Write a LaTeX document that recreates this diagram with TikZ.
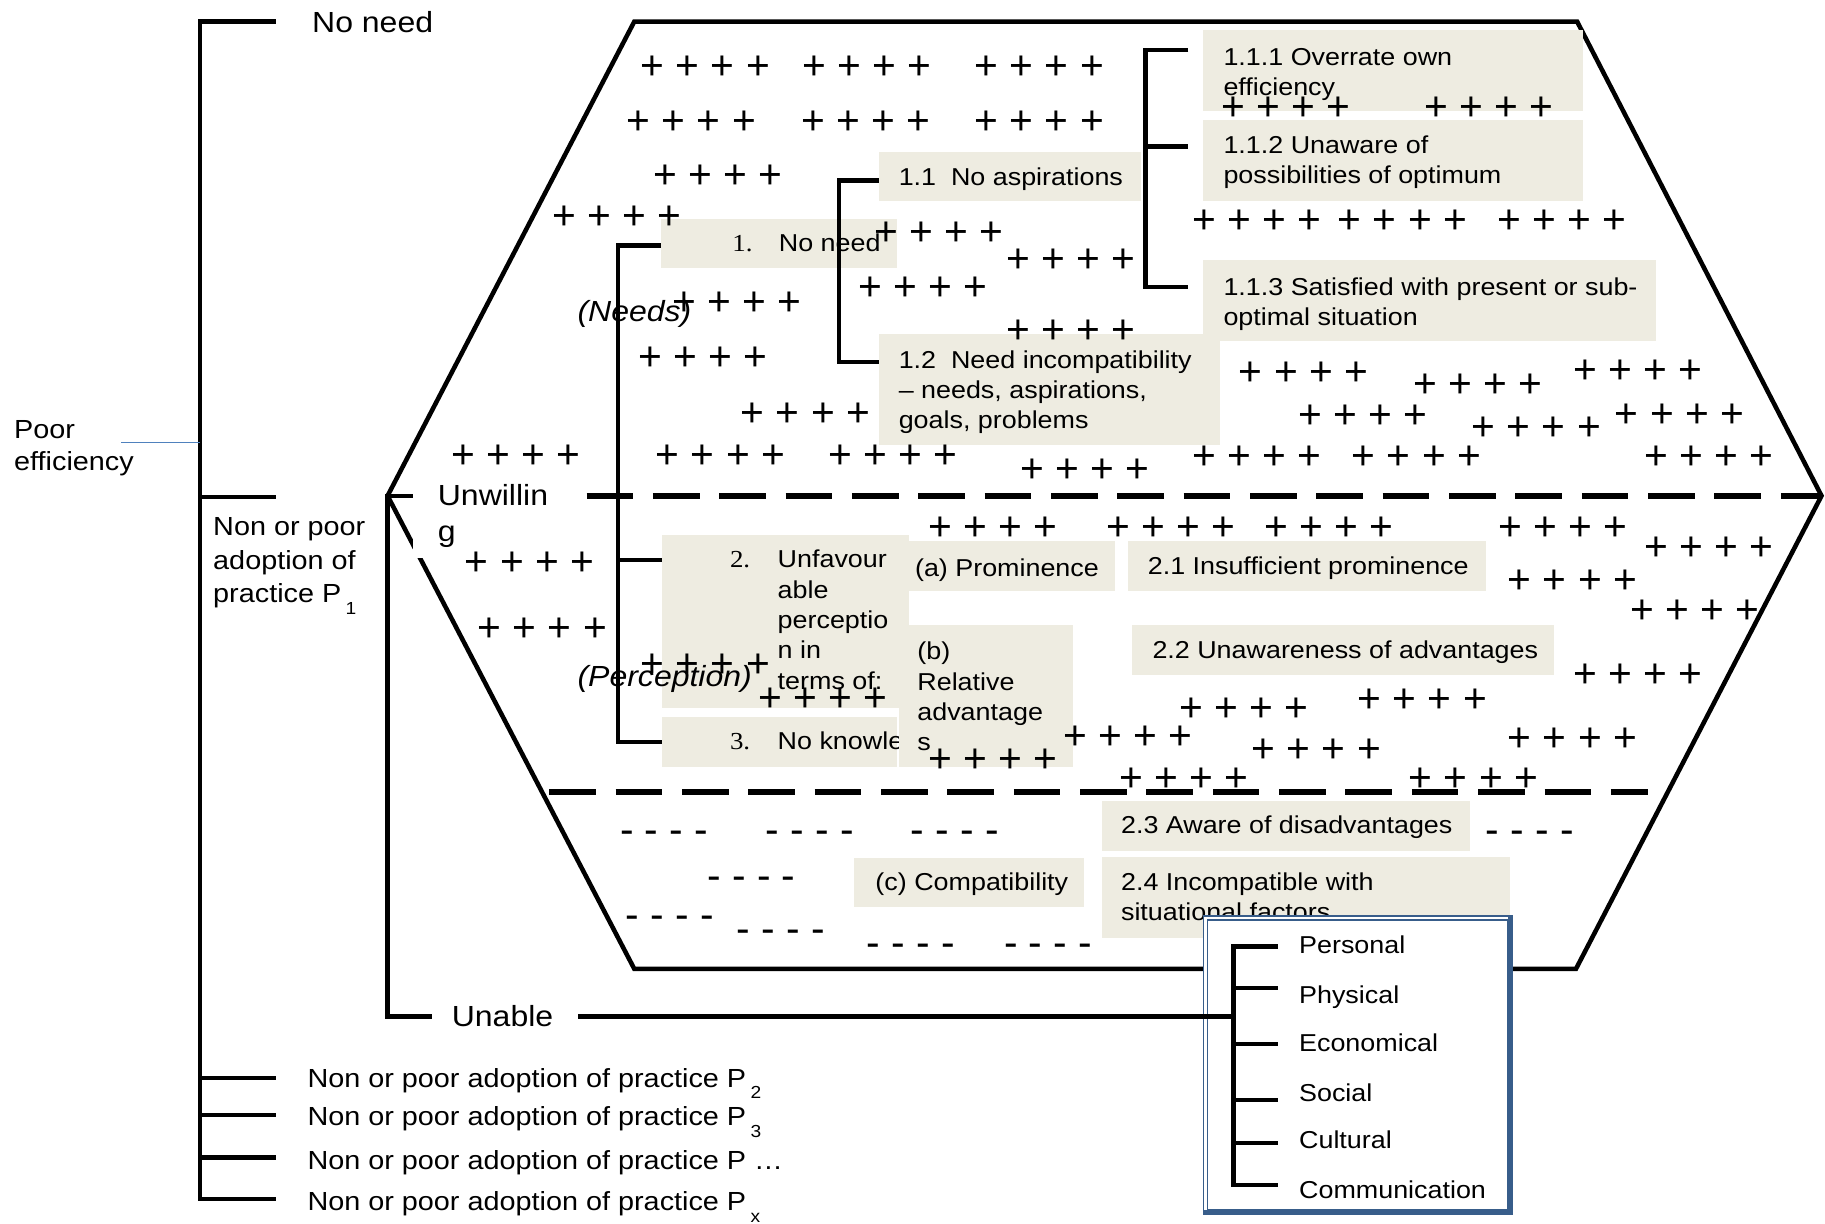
\documentclass[tikz,border=0pt]{standalone}
\usepackage{fontspec}
\setmainfont{Liberation Sans}[FakeStretch=1.1]
\newfontfamily\numfont{Liberation Serif}[FakeStretch=1.1]
\newfontfamily\plusfont{Liberation Sans}
\usetikzlibrary{fit}

\definecolor{boxbg}{HTML}{EEECE1}
\definecolor{frameblue}{HTML}{385D8A}
\definecolor{leadblue}{HTML}{4F81BD}

\newcommand\boxfont{\fontsize{21}{26}\selectfont}
\newcommand\outfont{\fontsize{22.5}{29}\selectfont}
\newcommand\bigfont{\fontsize{25}{31}\selectfont}
\newcommand\plussize{\plusfont\fontsize{35}{40}\selectfont}
\newcommand\subs[1]{\,\raisebox{-10pt}{\fontsize{15}{15}\selectfont #1}}
\newcommand\ml[1]{\begin{tabular}[t]{@{}l@{}}#1\end{tabular}}

\tikzset{
  bar/.style={line width=3.9pt},
  dashbar/.style={line width=5pt, dash pattern=on 40pt off 17pt},
  bg/.style={fill=boxbg, draw=none, inner sep=0pt},
  txt/.style={anchor=base west, inner sep=0pt, font=\boxfont},
  outer/.style={anchor=base west, inner sep=0pt, font=\outfont},
  big/.style={anchor=base west, inner sep=0pt, font=\bigfont},
  plusrow/.style={anchor=base west, inner sep=0pt, font=\plussize, xshift=-1.7pt, yshift=-12.3pt},
  dashrow/.style={anchor=base west, inner sep=0pt, font=\plussize, xshift=-1.5pt, yshift=-9pt},
}

\begin{document}
\begin{tikzpicture}[x=1pt, y=-1pt, line join=miter]
\useasboundingbox (0,0) rectangle (1568,1051);

% ---- hexagon of the adoption space ----
\draw[bar] (333,426) coordinate (hexL) -- (545,18.5) -- (1355,18.5)
  -- (1565,426) coordinate (hexR) -- (1354,832.5) -- (545,832.5) -- cycle;

% ---- outer bracket: poor efficiency ----
\draw[bar] (237,18.5) -- (172,18.5) -- (172,1030) -- (237,1030);
\foreach \yy/\nm in {427/tkP1, 926/tkP2, 958/tkP3, 994.5/tkPd}
  \draw[bar] (172,\yy) -- (237,\yy) coordinate (\nm);
\coordinate (leadL) at (104,380);
\draw[leadblue, line width=1.3pt] (leadL) -- (172,380);

% ---- unwilling / unable bracket ----
\draw[bar] (355,426) -- (hexL) -- (333,873.5) -- (371,873.5) coordinate (unableT);

% ---- dashed dividers ----
\draw[dashbar] (504,426) -- (hexR);
\draw[dashbar] (472,680.5) -- (1416,680.5);

% ---- shaded category boxes ----
\node[bg, fit={(1034,26) (1360,95)}] (b111) {};
\node[bg, fit={(1034,103) (1360,173)}] (b112) {};
\node[bg, fit={(755,287) (1048,382)}] (b12) {};
\node[bg, fit={(1034,223) (1423,293)}] (b113) {};
\node[bg, fit={(755,131) (980,173)}] (b11) {};
\node[bg, fit={(568,188) (771,230)}] (b1) {};
\node[bg, fit={(569,460) (781,608)}] (b2) {};
\node[bg, fit={(569,616) (771,659)}] (b3) {};
\node[bg, fit={(781,465) (958,508)}] (ba) {};
\node[bg, fit={(969,465) (1277,508)}] (b21) {};
\node[bg, fit={(973,537) (1335,580)}] (b22) {};
\node[bg, fit={(947,688) (1263,731)}] (b23) {};
\node[bg, fit={(947,736) (1297,806)}] (b24) {};
\node[bg, fit={(734,737) (931,779)}] (bc) {};

% ---- box texts ----
\node[txt] (t111) at (1051,56) {\ml{1.1.1 Overrate own\\efficiency}};
\node[txt] (t112) at (1051,132) {\ml{1.1.2 Unaware of\\possibilities of optimum}};
\node[txt] (t113) at (1051,253.5) {\ml{1.1.3 Satisfied with present or sub-\\optimal situation}};
\node[txt] (t11) at (772,159) {1.1\ \ No aspirations};
\node[txt] (t1n) at (629,216) {\numfont 1.};
\node[txt] (t1) at (669,216) {No need};
\node[txt] (t12) at (772,316.5) {\ml{1.2\ \ Need incompatibility\\– needs, aspirations,\\goals, problems}};
\node[txt] (t2n) at (627,488) {\numfont 2.};
\node[txt] (t2) at (668,488) {\ml{Unfavour\\able\\perceptio\\n in\\terms of:}};
\node[txt] (t3n) at (627,644) {\numfont 3.};
\node[txt] (t3) at (668,644) {No knowle};
\node[txt] (ta) at (786,495) {(a) Prominence};
\node[txt] (t21) at (986,494) {2.1 Insufficient prominence};
\node[txt] (t22) at (990,565.5) {2.2 Unawareness of advantages};
\node[txt] (t23) at (963,716) {2.3 Aware of disadvantages};
\node[txt] (t24) at (963,765) {\ml{2.4 Incompatible with\\situational factors}};
\node[txt] (tc) at (752,765) {(c) Compatibility};

\node[bg, fit={(772,537) (922,659)}] (bb) {};
\node[txt] (tb) at (788,567) {\ml{(b)\\Relative\\advantage\\s}};

% ---- inner brackets ----
\draw[bar] (b1.west |- 0,211) -- (531,211) -- (531,637.5) -- (b3.west |- 0,637.5);
\draw[bar] (531,481) -- (b2.west |- 0,481);
\draw[bar] (b11.west |- 0,155) -- (721,155) -- (721,311) -- (b12.west |- 0,311);
\draw[bar] (1021,43) -- (984,43) -- (984,246.5) -- (1021,246.5);
\draw[bar] (984,126) -- (1021,126);

% ---- outer labels ----
\node[big] (noneed) at (268,28) {No need};
\node[anchor=base west, inner sep=0pt, font=\fontsize{22.5}{27}\selectfont] (poor) at (12,377) {\ml{Poor\\efficiency}};
\node[outer] (lp1) at (183,460) {\ml{Non or poor\\adoption of\\practice P\subs{1}}};
\fill[white] (355,405) rectangle (470,479);
\node[big] (unw) at (376,434) {\ml{Unwillin\\g}};
\node[big] (unable) at (388,882) {Unable};
\node[big] (needs) at (496,276) {\itshape (Needs)};
\node[big] (perc) at (496,590) {\itshape (Perception)};
\node[outer] (lp2) at (264,934) {Non or poor adoption of practice P\subs{2}};
\node[outer] (lp3) at (264,967) {Non or poor adoption of practice P\subs{3}};
\node[outer] (lpd) at (264,1005) {Non or poor adoption of practice P …};
\node[outer] (lpx) at (264,1040) {Non or poor adoption of practice P\subs{x}};

% ---- plus rows (favourable) ----
\foreach \x/\y [count=\i] in {
  552/56, 691/56, 839/56, 540/103, 690/103, 839/103, 563/150, 476/185,
  753/199, 866/222, 739/246, 579/259, 866/283, 550/306, 638/354,
  389/390, 565/390, 713/390, 878/402, 1051/91, 1225/91,
  1026/188, 1151/188, 1288/188, 1066/319, 1216/329, 1353/317,
  1117/356, 1266/366, 1389/355, 1026/391, 1163/391, 1414/391,
  799/452, 952/452, 1088/452, 1289/452, 1414/469, 401/482, 1297/498,
  1402/523, 412/539, 552/570, 1353/578, 653/599, 1168/600, 1015/608,
  915/632, 1297/633, 1077/643, 799/651, 963/668, 1212/668}
  \node[plusrow] (pl\i) at (\x,\y) {+ + + +};

% ---- minus rows (unfavourable) ----
\foreach \x/\y [count=\i] in {
  534/716, 659/716, 784/716, 1278/716, 609/755, 539/789, 634/801,
  746/813, 864/813}
  \node[dashrow] (mn\i) at (\x,\y) {- - - -};

% ---- situational factors ----
\node[fill=white, draw=frameblue, line width=1.2pt, inner sep=0pt,
      fit={(1034,787) (1299,1043)}] (sitbox) {};
\draw[frameblue, line width=1pt] (1037.5,790.5) rectangle (1295.5,1039.5);
\draw[frameblue, line width=4pt] (sitbox.north east) ++(-2,1) -- ([xshift=-2pt,yshift=2pt]sitbox.south east) -- ([yshift=2pt]sitbox.south west);
\coordinate (sitjoin) at (1060,873.5);
\draw[bar] (unableT -| 497,0) -- (sitjoin);
\draw[bar] (1098,813) -- (1060,813) -- (1060,1018) -- (1098,1018);
\foreach \yy in {849,897,945,982}
  \draw[bar] (1060,\yy) -- (1098,\yy);
\foreach \yy/\lab [count=\i] in {819/Personal, 862/Physical, 903/Economical,
  946/Social, 987/Cultural, 1030/Communication}
  \node[txt] (sf\i) at (1116,\yy) {\lab};

\end{tikzpicture}
\end{document}
